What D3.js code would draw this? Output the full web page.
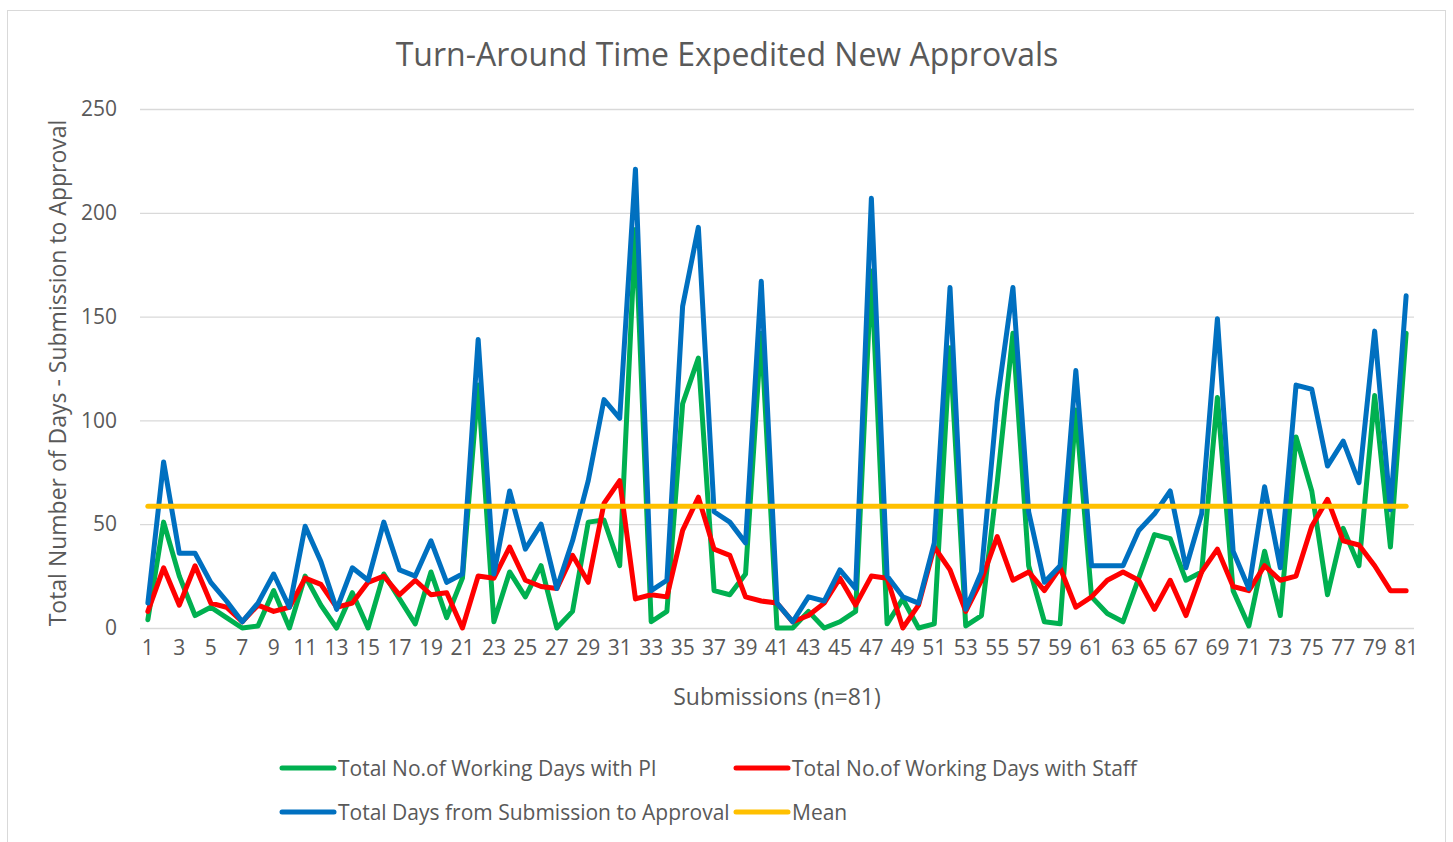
<!DOCTYPE html>
<html>
<head>
<meta charset="utf-8">
<script src="https://cdn.jsdelivr.net/npm/d3@7"></script>
<style>
    body { margin: 0; background: #fff; }
    text { font-family: "Open Sans", "Noto Sans", sans-serif; fill: #595959; }
</style>
</head>
<body>
<svg id="chart"></svg>
<script>
let W = 1453;
let H = 842;

let submissions = d3.range(1, 82);

let daysWithPI = [
    4, 51, 25, 6, 10, 5, 0, 1, 18, 0,
    25, 11, 0, 17, 0, 26, 14, 2, 27, 5,
    24, 117, 3, 27, 15, 30, 0, 8, 51, 52,
    30, 192, 3, 8, 108, 130, 18, 16, 26, 142,
    0, 0, 8, 0, 3, 8, 172, 2, 14, 0,
    2, 135, 1, 6, 70, 142, 30, 3, 2, 105,
    15, 7, 3, 24, 45, 43, 23, 27, 111, 18,
    1, 37, 6, 92, 66, 16, 48, 30, 112, 39, 142];

let daysWithStaff = [
    8, 29, 11, 30, 12, 10, 3, 11, 8, 10,
    24, 21, 10, 12, 22, 25, 16, 23, 16, 17,
    0, 25, 24, 39, 23, 20, 19, 35, 22, 60,
    71, 14, 16, 15, 47, 63, 38, 35, 15, 13,
    12, 3, 6, 12, 24, 11, 25, 24, 0, 11,
    39, 28, 8, 23, 44, 23, 27, 18, 29, 10,
    15, 23, 27, 23, 9, 23, 6, 27, 38, 20,
    18, 30, 23, 25, 49, 62, 42, 40, 30, 18, 18];

let totalDays = [
    12, 80, 36, 36, 22, 13, 3, 12, 26, 10,
    49, 32, 9, 29, 23, 51, 28, 25, 42, 22,
    26, 139, 26, 66, 38, 50, 19, 42, 71, 110,
    101, 221, 18, 23, 155, 193, 56, 51, 41, 167,
    12, 3, 15, 13, 28, 19, 207, 25, 15, 12,
    41, 164, 9, 27, 109, 164, 56, 22, 30, 124,
    30, 30, 30, 47, 55, 66, 29, 55, 149, 37,
    19, 68, 29, 117, 115, 78, 90, 70, 143, 57, 160];

let meanDays = 58.6;

let yTicks = [0, 50, 100, 150, 200, 250];

let series = [
    { name: "Total No.of Working Days with PI", color: "#00b050", values: daysWithPI },
    { name: "Total No.of Working Days with Staff", color: "#ff0000", values: daysWithStaff },
    { name: "Total Days from Submission to Approval", color: "#0070c0", values: totalDays },
    { name: "Mean", color: "#ffc000", values: submissions.map(function () { return meanDays; }) }
];

let svg = d3.select("#chart").attr("width", W).attr("height", H);

// chart frame
svg.append("rect")
    .attr("x", 7.5).attr("y", 10.5)
    .attr("width", 1438).attr("height", 840)
    .attr("fill", "#fff")
    .attr("stroke", "#d9d9d9")
    .attr("stroke-width", 1);

let plot = { left: 140, right: 1414, top: 109, bottom: 628 };

let x = d3.scaleBand()
    .domain(submissions)
    .range([plot.left, plot.right]);

let y = d3.scaleLinear()
    .domain([0, 250])
    .range([plot.bottom, plot.top]);

function cx(d) {
    return x(d) + x.bandwidth() / 2;
}

// gridlines
let yAxis = d3.axisLeft(y)
    .tickValues(yTicks)
    .tickSize(-(plot.right - plot.left))
    .tickPadding(23);

let gy = svg.append("g")
    .attr("transform", "translate(" + plot.left + ",0)")
    .call(yAxis);
gy.select(".domain").remove();
gy.selectAll(".tick line").attr("stroke", "#d9d9d9").attr("stroke-width", 1.3);
gy.selectAll(".tick text")
    .style("font-size", "21px")
    .style("fill", "#595959");

// x axis labels (odd only)
let xAxis = d3.axisBottom(x)
    .tickValues(submissions.filter(function (d) { return d % 2 === 1; }))
    .tickSize(0)
    .tickPadding(12);

let gx = svg.append("g")
    .attr("transform", "translate(0," + plot.bottom + ")")
    .call(xAxis);
gx.select(".domain").remove();
gx.selectAll(".tick text")
    .style("font-size", "21px")
    .style("fill", "#595959");

// lines
let line = d3.line()
    .x(function (d, i) { return cx(submissions[i]); })
    .y(function (d) { return y(d); });

svg.append("g")
    .selectAll("path")
    .data(series)
    .enter()
    .append("path")
    .attr("d", function (s) { return line(s.values); })
    .attr("fill", "none")
    .attr("stroke", function (s) { return s.color; })
    .attr("stroke-width", 5)
    .attr("stroke-linejoin", "round")
    .attr("stroke-linecap", "round");

// title
svg.append("text")
    .attr("x", 727)
    .attr("y", 66)
    .attr("text-anchor", "middle")
    .style("font-size", "32px")
    .text("Turn-Around Time Expedited New Approvals");

// axis titles
svg.append("text")
    .attr("x", 777)
    .attr("y", 705)
    .attr("text-anchor", "middle")
    .style("font-size", "23px")
    .text("Submissions (n=81)");

svg.append("text")
    .attr("transform", "translate(66," + 373 + ") rotate(-90)")
    .attr("text-anchor", "middle")
    .style("font-size", "23px")
    .text("Total Number of Days - Submission to Approval");

// legend
let legendPos = [[280, 768], [734, 768], [280, 812], [734, 812]];

let legend = svg.append("g")
    .selectAll("g")
    .data(series)
    .enter()
    .append("g")
    .attr("transform", function (s, i) {
        return "translate(" + legendPos[i][0] + "," + legendPos[i][1] + ")";
    });

legend.append("line")
    .attr("x1", 2).attr("x2", 54)
    .attr("y1", 0).attr("y2", 0)
    .attr("stroke", function (s) { return s.color; })
    .attr("stroke-width", 5)
    .attr("stroke-linecap", "round");

legend.append("text")
    .attr("x", 58)
    .attr("y", 7.5)
    .style("font-size", "21px")
    .text(function (s) { return s.name; });
</script>
</body>
</html>
